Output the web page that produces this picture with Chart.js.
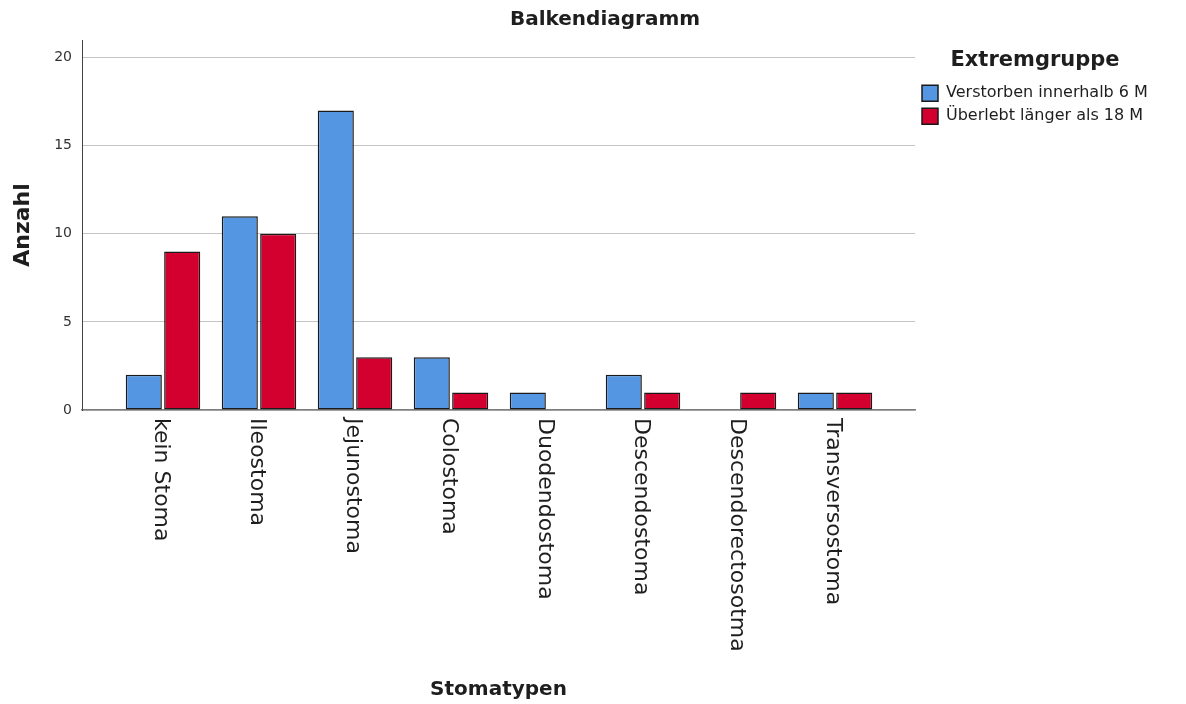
<!DOCTYPE html>
<html lang="de">
<head>
<meta charset="utf-8">
<title>Balkendiagramm</title>
<script src="https://cdn.jsdelivr.net/npm/chart.js@4.4.0/dist/chart.umd.min.js"></script>
<style>
  html, body { margin: 0; padding: 0; background: #fff; }
  #wrap { width: 1186px; height: 704px; }
</style>
</head>
<body>
<div id="wrap"><canvas id="stomaChart" width="1186" height="704"></canvas></div>
<script>
// Daten
const stomaTypes = ['kein Stoma', 'Ileostoma', 'Jejunostoma', 'Colostoma', 'Duodendostoma', 'Descendostoma', 'Descendorectosotma', 'Transversostoma'];
const verstorben = [2, 11, 17, 3, 1, 2, 0, 1];
const ueberlebt = [9, 10, 3, 1, 0, 1, 1, 1];
const yTicks = [0, 5, 10, 15, 20];
const seriesNames = ['Verstorben innerhalb 6 M', 'Überlebt länger als 18 M'];

const FONT = "'DejaVu Sans', 'Lucida Grande', sans-serif";

// Titel und gedrehte Kategorienbeschriftungen (im Uhrzeigersinn)
const extraText = {
  id: 'extraText',
  afterDraw(chart) {
    const ctx = chart.ctx;
    const xs = chart.scales.x;
    ctx.save();
    ctx.fillStyle = '#1e1e1e';
    ctx.font = 'bold 20px ' + FONT;
    ctx.textAlign = 'center';
    ctx.textBaseline = 'middle';
    ctx.fillText('Balkendiagramm', 605, 20);

    ctx.font = '22px ' + FONT;
    ctx.textAlign = 'left';
    stomaTypes.forEach((label, i) => {
      const x = xs.getPixelForValue(i);
      ctx.save();
      ctx.translate(x - 2, chart.chartArea.bottom + 8);
      ctx.rotate(Math.PI / 2);
      ctx.fillText(label, 0, 0);
      ctx.restore();
    });
    ctx.restore();
  }
};

const ctx = document.getElementById('stomaChart').getContext('2d');
const chart = new Chart(ctx, {
  type: 'bar',
  data: {
    datasets: [{
      label: seriesNames[0],
      data: verstorben.map((v, i) => ({ x: i, y: v })),
      backgroundColor: '#5596e3',
      borderColor: '#1a1a1a',
      borderWidth: 1.5,
      borderSkipped: false
    }, {
      label: seriesNames[1],
      data: ueberlebt.map((v, i) => ({ x: i, y: v })),
      backgroundColor: '#d3002f',
      borderColor: '#1a1a1a',
      borderWidth: 1.5,
      borderSkipped: false
    }]
  },
  options: {
    responsive: false,
    animation: false,
    categoryPercentage: 0.8,
    barPercentage: 0.94,
    layout: { padding: { top: 40, left: 8, right: 31, bottom: 0 } },
    plugins: {
      title: { display: false },
      tooltip: { enabled: false },
      legend: {
        position: 'right',
        align: 'start',
        fullSize: false,
        maxWidth: 240,
        title: {
          display: true,
          text: 'Extremgruppe',
          color: '#1e1e1e',
          font: { family: FONT, size: 21, weight: 'bold' },
          padding: { top: 10, bottom: 3 }
        },
        labels: {
          boxWidth: 16,
          boxHeight: 16,
          padding: 7,
          color: '#1e1e1e',
          font: { family: FONT, size: 16 }
        }
      }
    },
    scales: {
      x: {
        type: 'linear',
        offset: false,
        min: -0.84375,
        max: 7.8333,
        afterBuildTicks(scale) { scale.ticks = stomaTypes.map((s, i) => ({ value: i })); },
        grid: { display: false, drawTicks: false, offset: false },
        border: { display: true, color: '#7d7d7d', width: 1.5 },
        ticks: { display: false },
        title: {
          display: true,
          text: 'Stomatypen',
          color: '#1e1e1e',
          font: { family: FONT, size: 20, weight: 'bold' },
          padding: { top: 0, bottom: 2 }
        },
        afterFit(scale) { scale.height = 294; }
      },
      y: {
        min: 0,
        max: 21,
        afterBuildTicks(scale) { scale.ticks = yTicks.map(v => ({ value: v })); },
        grid: { color: '#c4c4c4', lineWidth: 1, drawTicks: false },
        border: { display: true, color: '#444', width: 1 },
        ticks: {
          padding: 10,
          color: '#333',
          font: { family: FONT, size: 14 }
        },
        title: {
          display: true,
          text: 'Anzahl',
          color: '#1e1e1e',
          font: { family: FONT, size: 22, weight: 'bold' },
          padding: { top: 2, bottom: 0 }
        },
        afterFit(scale) { scale.width = 74; }
      }
    }
  },
  plugins: [extraText]
});
</script>
</body>
</html>
